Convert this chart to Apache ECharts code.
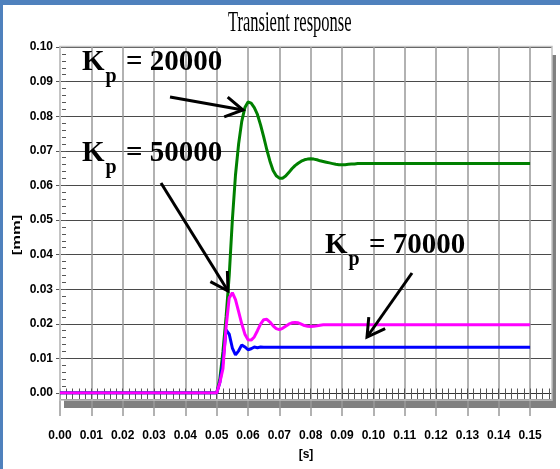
<!DOCTYPE html>
<html><head><meta charset="utf-8">
<script src="https://cdn.jsdelivr.net/npm/echarts@6/dist/echarts.min.js"></script>
<style>html,body{margin:0;padding:0;background:#fff}#c{width:560px;height:469px}</style>
</head><body><div id="c"></div>
<script>
// ---- data ----
const time = [0, 0.050, 0.051, 0.052, 0.053, 0.054, 0.055, 0.056, 0.057, 0.058, 0.059,
  0.060, 0.061, 0.062, 0.063, 0.064, 0.065, 0.066, 0.067, 0.068, 0.069,
  0.070, 0.071, 0.072, 0.073, 0.074, 0.075, 0.076, 0.077, 0.078, 0.079,
  0.080, 0.081, 0.082, 0.083, 0.084, 0.085, 0.086, 0.087, 0.088, 0.089,
  0.090, 0.091, 0.092, 0.093, 0.094, 0.095, 0.100, 0.150];
const kp20000 = [0, 0, 0.004, 0.012, 0.022, 0.034, 0.050, 0.063, 0.072, 0.0785, 0.0825,
  0.0841, 0.0838, 0.0825, 0.0805, 0.0775, 0.0740, 0.0703, 0.0670, 0.0643, 0.0628,
  0.0621, 0.0621, 0.0627, 0.0637, 0.0648, 0.0657, 0.0664, 0.0670, 0.0674, 0.0676,
  0.0677, 0.0676, 0.0674, 0.0671, 0.0669, 0.0667, 0.0665, 0.0663, 0.0661, 0.0660,
  0.0660, 0.0660, 0.0661, 0.0662, 0.0662, 0.0663, 0.0663, 0.0663];
const kp50000 = [0, 0, 0.003, 0.007, 0.019, 0.0275, 0.0290, 0.0270, 0.0235, 0.0200, 0.0170,
  0.0154, 0.0153, 0.0162, 0.0180, 0.0199, 0.0212, 0.0213, 0.0205, 0.0194, 0.0186,
  0.0183, 0.0187, 0.0193, 0.0199, 0.0203, 0.0204, 0.0203, 0.0199, 0.0195, 0.0193,
  0.0192, 0.0193, 0.0194, 0.0196, 0.0197, 0.0197, 0.0197, 0.0197, 0.0197, 0.0197,
  0.0197, 0.0197, 0.0197, 0.0197, 0.0197, 0.0197, 0.0197, 0.0197];
const kp70000 = [0, 0, 0.003, 0.009, 0.0182, 0.0170, 0.0130, 0.0110, 0.0122, 0.0139, 0.0133,
  0.0125, 0.0128, 0.0133, 0.0131, 0.0133, 0.0132, 0.0132, 0.0132, 0.0132, 0.0132,
  0.0132, 0.0132, 0.0132, 0.0132, 0.0132, 0.0132, 0.0132, 0.0132, 0.0132, 0.0132,
  0.0132, 0.0132, 0.0132, 0.0132, 0.0132, 0.0132, 0.0132, 0.0132, 0.0132, 0.0132,
  0.0132, 0.0132, 0.0132, 0.0132, 0.0132, 0.0132, 0.0132, 0.0132];
const seriesNames = ['Kp = 20000', 'Kp = 50000', 'Kp = 70000'];
const gains = ['20000', '50000', '70000'];
const xTickValues = [0, 0.01, 0.02, 0.03, 0.04, 0.05, 0.06, 0.07, 0.08, 0.09, 0.10, 0.11, 0.12, 0.13, 0.14, 0.15];
const xTickLabels = ['0.00','0.01','0.02','0.03','0.04','0.05','0.06','0.07','0.08','0.09','0.10','0.11','0.12','0.13','0.14','0.15'];
const yTickLabels = ['0.00','0.01','0.02','0.03','0.04','0.05','0.06','0.07','0.08','0.09','0.10'];
const titleText = 'Transient response';
const xName = '[s]';
const yName = '[mm]';

// ---- chart ----
const chart = echarts.init(document.getElementById('c'), null, {renderer: 'canvas'});
const pair = (arr) => time.map((t, i) => [t, arr[i]]);
const labelFont = "'Liberation Sans',Arial,sans-serif";
const fromTicks = (labels, step) => (v) => {
  const i = Math.round(v / step);
  return (Math.abs(v - i * step) < 1e-9 && i >= 0 && i < labels.length) ? labels[i] : '';
};

function arrow(x1, y1, x2, y2) {
  const a = Math.atan2(y1 - y2, x1 - x2), L = 20, s = Math.PI / 6;
  return [
    {type: 'line', z: 100, shape: {x1, y1, x2, y2}, style: {stroke: '#000', lineWidth: 3}},
    {type: 'polyline', z: 100, shape: {points: [
      [x2 + L * Math.cos(a + s), y2 + L * Math.sin(a + s)], [x2, y2],
      [x2 + L * Math.cos(a - s), y2 + L * Math.sin(a - s)]]},
      style: {stroke: '#000', lineWidth: 3, fill: null}}
  ];
}
const kRich = {
  k: {fontSize: 29, fontFamily: 'Liberation Serif', fontWeight: 'bold', lineHeight: 29, verticalAlign: 'top', color: '#000'},
  p: {fontSize: 20, fontFamily: 'Liberation Serif', fontWeight: 'bold', lineHeight: 20, padding: [19, 2, 0, 1], verticalAlign: 'top', color: '#000'}
};
function kLabel(x, y, g) {
  return {type: 'text', z: 100, x, y, style: {text: '{k|K}{p|p}{k| = ' + g + '}', rich: kRich, align: 'left', verticalAlign: 'top', fill: '#000'}};
}

const option = {
  animation: false,
  backgroundColor: '#fff',
  grid: {left: 60, right: 8, top: 47, bottom: 76, containLabel: false, outerBoundsMode: 'none'},
  xAxis: [{
    type: 'value', min: 0, max: 0.157, interval: 0.01,
    name: xName, nameLocation: 'middle', nameGap: 56,
    nameTextStyle: {fontFamily: labelFont, fontWeight: 'bold', fontSize: 12, color: '#000'},
    axisLine: {show: true, onZero: false, lineStyle: {color: '#333', width: 1}},
    axisTick: {show: true, length: 23, customValues: xTickValues, lineStyle: {color: '#999', width: 1.5}},
    splitLine: {show: true, lineStyle: {color: '#999', width: 1.5}},
    axisLabel: {margin: 37, fontFamily: labelFont, fontWeight: 'bold', fontSize: 12, color: '#000',
      formatter: fromTicks(xTickLabels, 0.01)}
  }, {
    type: 'value', min: 0, max: 0.157, interval: 0.002, position: 'bottom', offset: 6.5,
    axisLine: {show: true, onZero: false, lineStyle: {color: '#444', width: 1}},
    axisTick: {show: true, inside: true, length: 11, lineStyle: {color: '#555', width: 1}},
    splitLine: {show: false}, axisLabel: {show: false}
  }],
  yAxis: [{
    type: 'value', min: 0, max: 0.1, interval: 0.01,
    axisLine: {show: true, lineStyle: {color: '#c4c4c4', width: 2}},
    axisTick: {show: true, length: 4, lineStyle: {color: '#555', width: 1}},
    splitLine: {show: true, lineStyle: {color: '#4a4a4a', width: 1}},
    axisLabel: {margin: 7, fontFamily: labelFont, fontWeight: 'bold', fontSize: 12, color: '#000',
      formatter: fromTicks(yTickLabels, 0.01)}
  }, {
    type: 'value', min: 0, max: 0.1, interval: 0.002, position: 'left', offset: -2,
    axisLine: {show: false},
    axisTick: {show: true, inside: true, length: 4, lineStyle: {color: '#555', width: 1}},
    splitLine: {show: false}, axisLabel: {show: false}
  }],
  series: [
    {name: seriesNames[0], type: 'line', data: pair(kp20000), showSymbol: false, symbol: 'none',
      lineStyle: {color: '#008000', width: 3}, itemStyle: {color: '#008000'}, z: 3},
    {name: seriesNames[2], type: 'line', data: pair(kp70000), showSymbol: false, symbol: 'none',
      lineStyle: {color: '#0000ff', width: 3}, itemStyle: {color: '#0000ff'}, z: 4},
    {name: seriesNames[1], type: 'line', data: pair(kp50000), showSymbol: false, symbol: 'none',
      lineStyle: {color: '#ff00ff', width: 3}, itemStyle: {color: '#ff00ff'}, z: 5}
  ],
  graphic: [
    {type: 'rect', z: -1, shape: {x: 0, y: 0, width: 560, height: 5}, style: {fill: '#4f81bd'}},
    {type: 'rect', z: -1, shape: {x: 0, y: 0, width: 3, height: 469}, style: {fill: '#4f81bd'}},
    {type: 'rect', z: -1, shape: {x: 64, y: 400, width: 492, height: 8}, style: {fill: '#808080'}},
    {type: 'rect', z: -1, shape: {x: 552, y: 55, width: 4, height: 353}, style: {fill: '#808080'}},
    {type: 'rect', z: 1, shape: {x: 60, y: 46.5, width: 492, height: 353.5}, style: {fill: null, stroke: '#c4c4c4', lineWidth: 1.5}},
    {type: 'text', z: 10, x: 228, y: 8, scaleX: 0.55,
      style: {text: titleText, fontSize: 30, fontFamily: 'Liberation Serif', fill: '#000', align: 'left', verticalAlign: 'top'}},
    {type: 'text', z: 10, x: 17, y: 235, rotation: Math.PI / 2, scaleX: 1.5,
      style: {text: yName, fontSize: 11, fontWeight: 'bold', fontFamily: 'Liberation Sans', fill: '#000', align: 'center', verticalAlign: 'middle'}},
    kLabel(82, 48, gains[0]),
    kLabel(82, 139, gains[1]),
    kLabel(325, 231, gains[2]),
    ...arrow(170, 97, 243, 110),
    ...arrow(161, 183, 228, 291),
    ...arrow(412, 273, 367, 337)
  ]
};
chart.setOption(option);
</script></body></html>
